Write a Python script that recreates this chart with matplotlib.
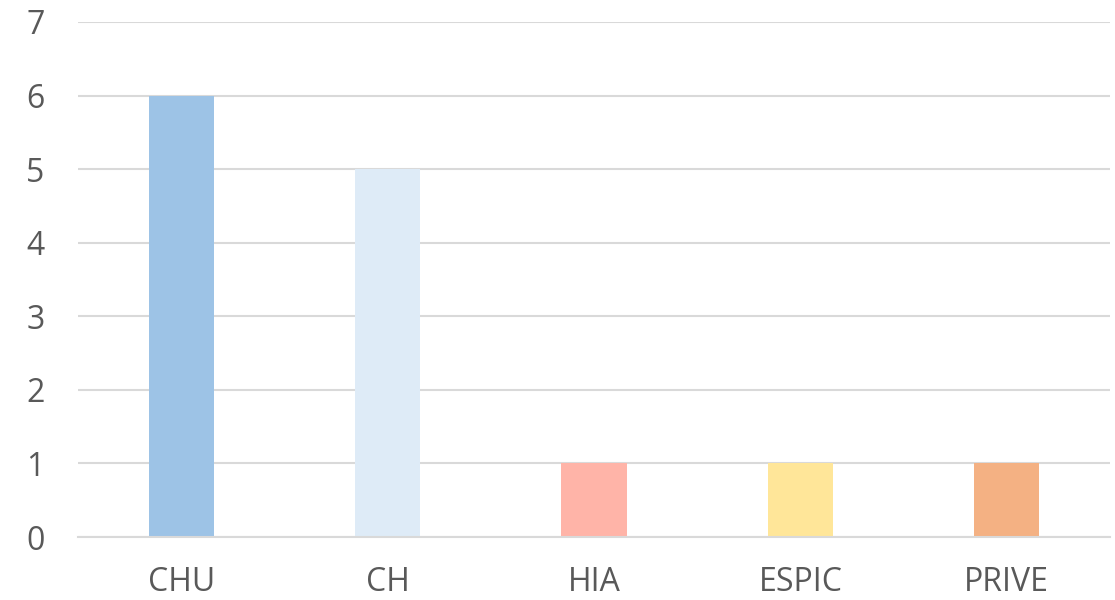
import matplotlib.pyplot as plt
import numpy as np

categories = ["CHU", "CH", "HIA", "ESPIC", "PRIVE"]
values = [6, 5, 1, 1, 1]
colors = ["#9DC3E6", "#DEEBF7", "#FFB4A8", "#FFE699", "#F4B183"]

plt.rcParams['font.family'] = ['Open Sans', 'DejaVu Sans']

fig = plt.figure(figsize=(11.15, 6), dpi=100)
ax = fig.add_axes([78 / 1115, 1 - 537 / 600, (1110 - 78) / 1115, (537 - 22) / 600])

x = np.arange(len(categories))
ax.bar(x, values, width=0.316, color=colors, zorder=2)

ax.set_xlim(-0.5, len(categories) - 0.5)
ax.set_ylim(0, 7)
ax.set_yticks(range(0, 8))
ax.set_xticks(x)
ax.set_xticklabels(categories)

ax.yaxis.grid(True, color="#D9D9D9", linewidth=1.5, zorder=1)
ax.set_axisbelow(True)
for s in ["top", "right", "left"]:
    ax.spines[s].set_visible(False)
ax.spines["bottom"].set_color("#D9D9D9")
ax.spines["bottom"].set_linewidth(1.5)
ax.spines["bottom"].set_zorder(3)

ax.tick_params(axis="both", length=0, labelsize=23, colors="#595959")
ax.tick_params(axis="y", pad=24)
ax.tick_params(axis="x", pad=21)

fig.savefig("out.png", dpi=100)
